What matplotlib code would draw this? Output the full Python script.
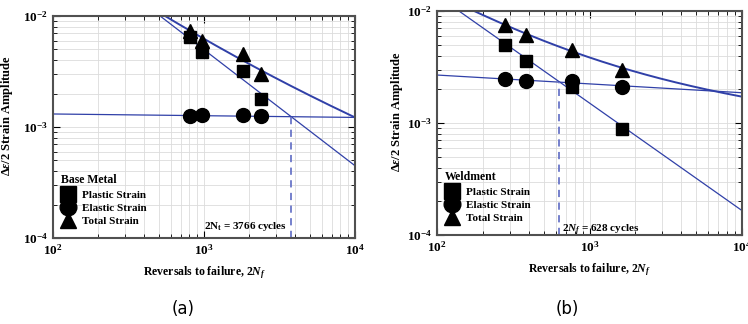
import numpy as np
import matplotlib
matplotlib.use("Agg")
from matplotlib import pyplot as plt
from matplotlib.lines import Line2D

plt.rcParams['font.family'] = ['Liberation Serif', 'DejaVu Serif']
plt.rcParams['font.weight'] = 'bold'
plt.rcParams['axes.labelweight'] = 'bold'
plt.rcParams['mathtext.fontset'] = 'custom'
plt.rcParams['mathtext.rm'] = 'Liberation Serif:bold'
plt.rcParams['mathtext.it'] = 'Liberation Serif:bold:italic'
plt.rcParams['mathtext.bf'] = 'Liberation Serif:bold'

# 数据 (a) Base Metal
base_2nf = [807, 970, 1811, 2382]
base_plastic = [0.0065, 0.0047, 0.0032, 0.0018]
base_elastic = [0.00126, 0.00129, 0.00127, 0.00125]
base_total = [0.0073, 0.0060, 0.0045, 0.0030]
# 拟合参数: 弹性 A*x^b, 塑性 C*x^c, 总 a*x^p + k*x^q
base_elastic_fit = [0.001407, -0.0155]
base_plastic_fit = [6.78, -1.045]
base_total_fit = [0.0873, -0.5, 3.47, -1.0]
base_life = 3766

# 数据 (b) Weldment
weld_2nf = [279, 384, 767, 1633]
weld_plastic = [0.0050, 0.0036, 0.0021, 0.00088]
weld_elastic = [0.00245, 0.00239, 0.00239, 0.00211]
weld_total = [0.0075, 0.0061, 0.0045, 0.0030]
weld_elastic_fit = [0.003857, -0.079]
weld_plastic_fit = [1.143, -0.96]
weld_total_fit = [0.005684, -0.15, 0.4599, -0.8]
weld_life = 628

line_color = '#3040a8'
dash_color = '#6a76c8'

fig = plt.figure(figsize=(7.48, 3.24), dpi=100)
ax1 = fig.add_axes([53 / 748, 1 - 238 / 324, 302 / 748, 222 / 324])
ax2 = fig.add_axes([437 / 748, 1 - 235 / 324, 305 / 748, 224 / 324])


def draw(ax, nf, pl, el, tot, efit, pfit, tfit, life, title, note, note_x, note_y, note_ha, ylab_xy):
    x = np.logspace(2, 4, 400)
    ax.plot(x, efit[0] * x ** efit[1], color=line_color, lw=0.9)
    ax.plot(x, pfit[0] * x ** pfit[1], color=line_color, lw=0.9)
    ax.plot(x, tfit[0] * x ** tfit[1] + tfit[2] * x ** tfit[3], color=line_color, lw=1.4)
    e_life = efit[0] * life ** efit[1]
    ax.plot([life, life], [1e-4, e_life], color=dash_color, lw=1.3, ls=(0, (4, 3)))

    ax.plot(nf, pl, 's', color='black', ms=9, ls='none')
    ax.plot(nf, el, 'o', color='black', ms=10, ls='none')
    ax.plot(nf, tot, '^', color='black', ms=10, ls='none')

    ax.set_xscale('log')
    ax.set_yscale('log')
    ax.set_xlim(1e2, 1e4)
    ax.set_ylim(1e-4, 1e-2)
    ax.grid(True, which='both', color='#dcdcdc', lw=0.6)
    ax.set_axisbelow(True)
    for s in ax.spines.values():
        s.set_color('#505050')
        s.set_linewidth(1.5)
    ax.tick_params(which='both', direction='in', top=True, right=True, labelsize=9.5)
    ax.tick_params(which='major', length=5)
    ax.tick_params(which='minor', length=3)

    ax.set_xlabel('Reversals to failure, $2N_f$', fontsize=8.5, labelpad=5)
    ax.set_ylabel(r'$\mathit{\Delta\epsilon}$/2 Strain Amplitude', fontsize=9)
    ax.yaxis.set_label_coords(*ylab_xy)

    handles = [Line2D([], [], marker='s', color='black', ls='none', ms=11),
               Line2D([], [], marker='o', color='black', ls='none', ms=12),
               Line2D([], [], marker='^', color='black', ls='none', ms=12)]
    leg = ax.legend(handles, ['Plastic Strain', 'Elastic Strain', 'Total Strain'],
                    title=title, loc='lower left', bbox_to_anchor=(-0.014, 0.0),
                    frameon=False, fontsize=8,
                    title_fontproperties={'weight': 'bold', 'size': 8.5},
                    labelspacing=0.3, handletextpad=0.6, handlelength=1.3,
                    borderaxespad=0.8, borderpad=0.3, alignment='left')
    leg._legend_box.sep = 3

    ax.text(note_x, note_y, note, fontsize=8, ha=note_ha, va='center')


draw(ax1, base_2nf, base_plastic, base_elastic, base_total,
     base_elastic_fit, base_plastic_fit, base_total_fit, base_life,
     'Base Metal', '2N$_\\mathrm{t}$ = 3766 cycles', 3550, 1.27e-4, 'right', (-0.126, 0.55))
draw(ax2, weld_2nf, weld_plastic, weld_elastic, weld_total,
     weld_elastic_fit, weld_plastic_fit, weld_total_fit, weld_life,
     'Weldment', '$2N_f$ = 628 cycles', 665, 1.1e-4, 'left', (-0.105, 0.55))

fig.text(183 / 748, 1 - 309 / 324, '(a)', fontsize=12, ha='center', va='center',
         family='DejaVu Sans', weight='normal')
fig.text(567 / 748, 1 - 309 / 324, '(b)', fontsize=12, ha='center', va='center',
         family='DejaVu Sans', weight='normal')

plt.savefig('out.png', dpi=100)
